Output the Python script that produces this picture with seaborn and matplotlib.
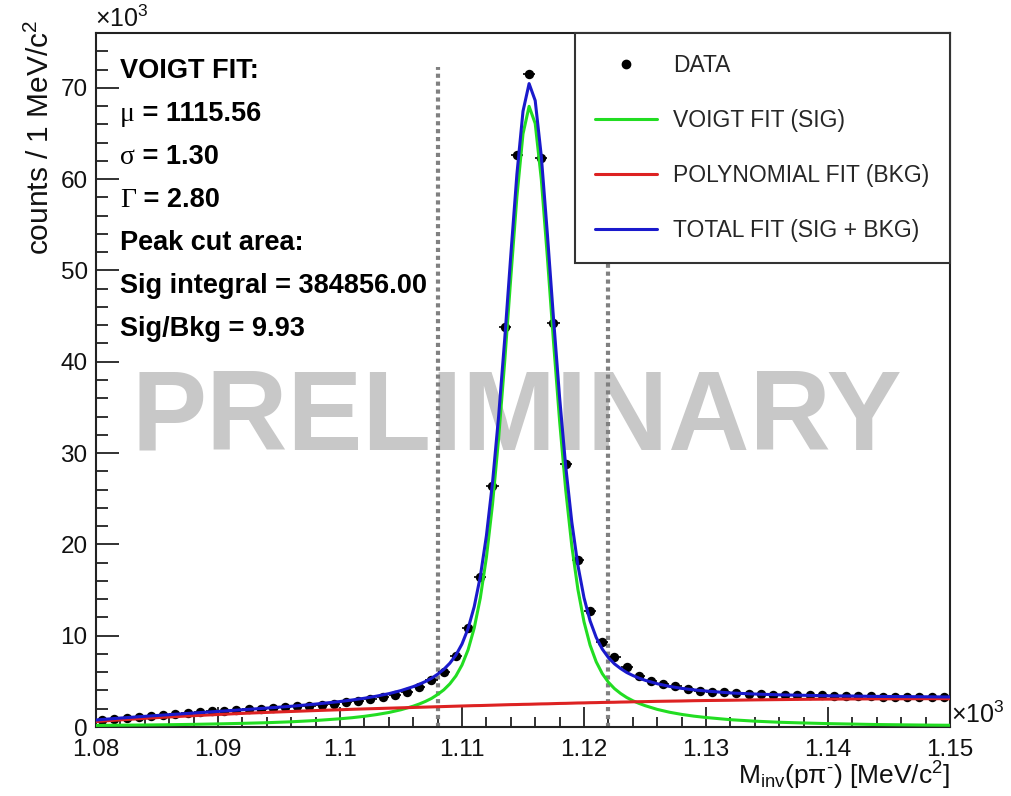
import numpy as np
import pandas as pd
import seaborn as sns
import matplotlib
matplotlib.use("Agg")
import matplotlib.pyplot as plt
from matplotlib.lines import Line2D
from matplotlib.ticker import MultipleLocator, FuncFormatter

# invariant mass in MeV/c^2, counts in units of 10^3
bin_centers = np.arange(1080.5, 1150.0, 1.0)
counts = [
    0.80, 0.90, 1.00, 1.10, 1.20, 1.30, 1.40, 1.50, 1.60, 1.70,
    1.78, 1.86, 1.94, 2.02, 2.10, 2.18, 2.26, 2.35, 2.45, 2.57,
    2.70, 2.85, 3.02, 3.25, 3.52, 3.88, 4.40, 5.15, 6.00, 7.80,
    10.8, 16.4, 26.4, 43.8, 62.6, 71.5, 62.3, 44.2, 28.8, 18.3,
    12.7, 9.30, 7.70, 6.60, 5.60, 5.00, 4.70, 4.50, 4.20, 3.95,
    3.85, 3.80, 3.70, 3.65, 3.60, 3.55, 3.50, 3.50, 3.45, 3.45,
    3.40, 3.40, 3.35, 3.35, 3.30, 3.30, 3.30, 3.25, 3.25, 3.30,
]

# fit curves as drawn (sampled points)
curve_x = [
    1080, 1082, 1084, 1086, 1088, 1090, 1092, 1094, 1096, 1098,
    1100, 1101, 1102, 1103, 1104, 1105, 1106,
    1106.5, 1107, 1107.5, 1108, 1108.5, 1109, 1109.5, 1110, 1110.5, 1111,
    1111.5, 1112, 1112.5, 1113, 1113.5, 1114, 1114.5, 1115, 1115.5, 1116,
    1116.5, 1117, 1117.5, 1118, 1118.5, 1119, 1119.5, 1120, 1120.5, 1121,
    1121.5, 1122, 1122.5, 1123, 1123.5, 1124, 1124.5, 1125,
    1126, 1127, 1128, 1129, 1130,
    1132, 1134, 1136, 1138, 1140, 1142, 1144, 1146, 1148, 1150,
]
sig_fit = [
    0.17, 0.20, 0.22, 0.25, 0.29, 0.34, 0.40, 0.47, 0.57, 0.71,
    0.90, 1.02, 1.17, 1.36, 1.59, 1.89, 2.28,
    2.52, 2.80, 3.13, 3.56, 4.06, 4.72, 5.59, 6.79, 8.46, 10.83,
    14.12, 18.57, 24.37, 31.58, 40.02, 49.21, 58.07, 64.95, 67.97, 66.09,
    59.98, 51.41, 42.19, 33.51, 25.97, 19.83, 15.07, 11.52, 8.96, 7.14,
    5.84, 4.90, 4.20, 3.67, 3.23, 2.88, 2.59, 2.34,
    1.93, 1.62, 1.38, 1.19, 1.04,
    0.80, 0.64, 0.52, 0.44, 0.37, 0.32, 0.27, 0.24, 0.21, 0.19,
]
bkg_fit = [
    0.60, 0.78, 0.95, 1.10, 1.24, 1.37, 1.49, 1.60, 1.70, 1.80,
    1.89, 1.94, 1.98, 2.02, 2.06, 2.10, 2.14,
    2.16, 2.18, 2.20, 2.22, 2.24, 2.26, 2.28, 2.30, 2.32, 2.34,
    2.35, 2.37, 2.39, 2.41, 2.43, 2.45, 2.46, 2.48, 2.49, 2.51,
    2.53, 2.54, 2.56, 2.58, 2.59, 2.61, 2.63, 2.64, 2.66, 2.67,
    2.69, 2.70, 2.71, 2.73, 2.74, 2.76, 2.77, 2.78,
    2.81, 2.83, 2.85, 2.88, 2.90,
    2.93, 2.97, 3.00, 3.03, 3.05, 3.07, 3.08, 3.09, 3.10, 3.10,
]
assert len(curve_x) == len(sig_fit) == len(bkg_fit)
assert len(counts) == len(bin_centers)

cut_edges = [1108, 1122]
cut_top = 72.3

info_lines = [
    ("", "VOIGT FIT:"),
    ("\u03bc", " = 1115.56"),
    ("\u03c3", " = 1.30"),
    ("\u0393", " = 2.80"),
    ("", "Peak cut area:"),
    ("", "Sig integral = 384856.00"),
    ("", "Sig/Bkg = 9.93"),
]
legend_labels = ["DATA", "VOIGT FIT (SIG)", "POLYNOMIAL FIT (BKG)", "TOTAL FIT (SIG + BKG)"]

GREEN = "#22dd22"
RED = "#dd2222"
BLUE = "#1a1acc"

sns.set_style("ticks")
plt.rcParams["font.family"] = ["Liberation Sans", "DejaVu Sans"]
plt.rcParams["mathtext.fontset"] = "custom"
plt.rcParams["mathtext.rm"] = "Liberation Sans"
plt.rcParams["mathtext.it"] = "Liberation Sans:italic"
plt.rcParams["mathtext.bf"] = "Liberation Sans:bold"

W, H = 1012, 796
fig = plt.figure(figsize=(W / 100, H / 100), dpi=100)
ax = fig.add_axes([96 / W, 69 / H, 854 / W, 694 / H])

pts = pd.DataFrame({"m": bin_centers, "n": counts})
fits = pd.DataFrame({"m": curve_x, "sig": sig_fit, "bkg": bkg_fit})
fits["tot"] = fits["sig"] + fits["bkg"]

# watermark
ax.text(0.493, (727 - 450) / 694, "PRELIMINARY", transform=ax.transAxes,
        ha="center", va="baseline", fontsize=81, fontweight="bold",
        color="#c8c8c8", zorder=0)

# signal window
for xc in cut_edges:
    ax.plot([xc, xc], [0, cut_top], color="#808080", lw=3.0,
            linestyle=(0, (1, 0.9)), dash_capstyle="butt", zorder=1)

ax.errorbar(pts["m"], pts["n"], xerr=0.5, fmt="none", ecolor="black",
            elinewidth=1.2, zorder=2)
sns.scatterplot(data=pts, x="m", y="n", color="black", s=46, linewidth=0,
                ax=ax, zorder=2, legend=False)

sns.lineplot(data=fits, x="m", y="sig", color=GREEN, lw=2.2, ax=ax,
             estimator=None, sort=False, zorder=3)
sns.lineplot(data=fits, x="m", y="bkg", color=RED, lw=2.2, ax=ax,
             estimator=None, sort=False, zorder=3)
sns.lineplot(data=fits, x="m", y="tot", color=BLUE, lw=2.2, ax=ax,
             estimator=None, sort=False, zorder=4)

ax.set_xlim(1080, 1150)
ax.set_ylim(0, 76)
ax.set_xlabel("")
ax.set_ylabel("")
ax.xaxis.set_major_locator(MultipleLocator(10))
ax.xaxis.set_minor_locator(MultipleLocator(2))
ax.yaxis.set_major_locator(MultipleLocator(10))
ax.yaxis.set_minor_locator(MultipleLocator(2))
ax.xaxis.set_major_formatter(FuncFormatter(lambda v, p: f"{v / 1000:g}"))
ax.yaxis.set_major_formatter(FuncFormatter(lambda v, p: f"{v:g}"))

ax.tick_params(which="both", direction="in", top=False, right=False,
               color="#222222", width=1.3, labelcolor="#111111")
ax.tick_params(axis="x", which="major", length=14.4, pad=9, labelsize=17.5)
ax.tick_params(axis="x", which="minor", length=7.2)
ax.tick_params(axis="y", which="major", length=16.5, pad=6, labelsize=17.5)
ax.tick_params(axis="y", which="minor", length=8.6)
for sp in ax.spines.values():
    sp.set_visible(True)
    sp.set_color("#222222")
    sp.set_linewidth(1.5)

# axis titles and exponent markers
fig.text(40 / W, 1 - 20 / H, "counts / 1 MeV/c$^{2}$", rotation=90,
         ha="center", va="top", fontsize=21.5, color="#111111")
fig.text(950 / W, 11 / H, "M$_{\\rm inv}$(p\u03c0$^{\\text{-}}$) [MeV/c$^{2}$]",
         ha="right", va="baseline", fontsize=19, color="#111111")
fig.text(95 / W, 1 - 32 / H, "\u00d710$^{3}$", ha="left", va="bottom",
         fontsize=18, color="#111111")
fig.text(951 / W, 1 - 728 / H, "\u00d710$^{3}$", ha="left", va="bottom",
         fontsize=18, color="#111111")

# fit summary
baselines = [78, 121, 164, 207, 250, 293, 336]
for (greek, rest), yb in zip(info_lines, baselines):
    yf = (727 - yb) / 694
    if greek:
        g = ax.text(0.028, yf, greek, transform=ax.transAxes, ha="left",
                    va="baseline", fontsize=20, family="Liberation Serif",
                    color="black", zorder=6)
        ax.annotate(rest, xy=(1, 0), xycoords=g, ha="left", va="bottom",
                    fontsize=19.5, fontweight="bold", color="black", zorder=6)
    else:
        ax.text(0.028, yf, rest, transform=ax.transAxes, ha="left",
                va="baseline", fontsize=19.5, fontweight="bold",
                color="black", zorder=6)

handles = [
    Line2D([], [], ls="none", marker="o", markersize=6, color="black"),
    Line2D([], [], color=GREEN, lw=2.2),
    Line2D([], [], color=RED, lw=2.2),
    Line2D([], [], color=BLUE, lw=2.2),
]
leg = ax.legend(handles, legend_labels, loc="upper right",
                bbox_to_anchor=(1, 1), borderaxespad=0, fontsize=16.5,
                frameon=True, fancybox=False, framealpha=1, edgecolor="#333333",
                borderpad=0.9, labelspacing=1.4, handlelength=2.7,
                handletextpad=0.7)
leg.get_frame().set_linewidth(1.5)
leg.set_zorder(10)

fig.savefig("out.png", dpi=100)
